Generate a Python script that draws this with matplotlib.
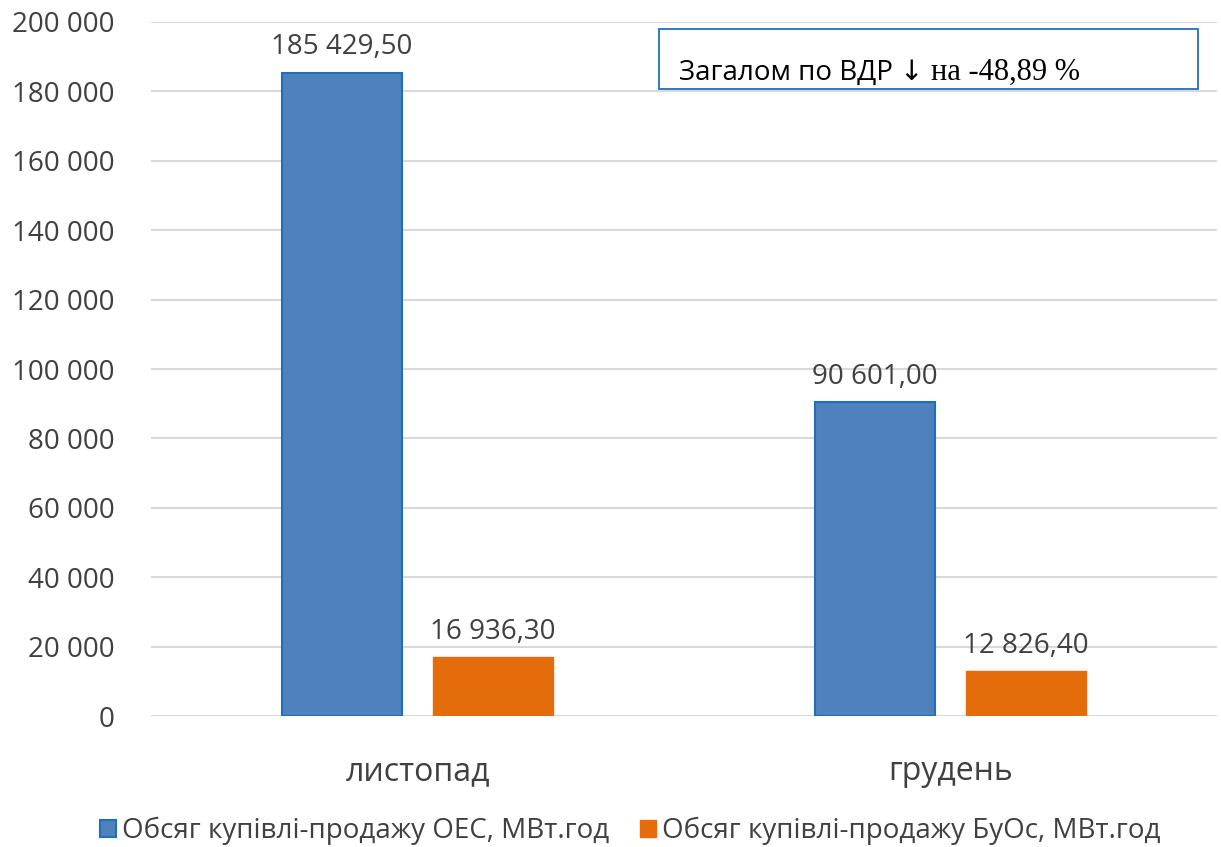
import matplotlib
matplotlib.use("Agg")
import matplotlib.pyplot as plt
import numpy as np
from matplotlib.patches import Rectangle

categories = ["листопад", "грудень"]
series_names = ["Обсяг купівлі-продажу ОЕС, МВт.год", "Обсяг купівлі-продажу БуОс, МВт.год"]
oes = [185429.50, 90601.00]
buos = [16936.30, 12826.40]
yticks = [0, 20000, 40000, 60000, 80000, 100000, 120000, 140000, 160000, 180000, 200000]

def fmt_int(v):
    return f"{int(v):,}".replace(",", " ")

def fmt_dec(v):
    s = f"{v:,.2f}"
    return s.replace(",", " ").replace(".", ",")

plt.rcParams['font.family'] = ['Open Sans', 'DejaVu Sans']
fig = plt.figure(figsize=(12.21, 8.47), dpi=100)
W, H = 1221, 847
ax = fig.add_axes([151 / W, (H - 716) / H, (1217 - 151) / W, (716 - 22) / H])

x = np.arange(len(categories))
bw = 0.225
off = 0.142
c_blue, e_blue = "#4F81BD", "#1F6FC0"
c_or, e_or = "#E46C0A", "#E46C0A"
b1 = ax.bar(x - off, oes, bw, color=c_blue, edgecolor=e_blue, linewidth=1.5, label=series_names[0], zorder=3)
b2 = ax.bar(x + off, buos, bw, color=c_or, edgecolor=e_or, linewidth=1.0, label=series_names[1], zorder=3)

txt = "#404040"
for bars, vals in ((b1, oes), (b2, buos)):
    for r, v in zip(bars, vals):
        ax.annotate(fmt_dec(v), (r.get_x() + r.get_width() / 2, v), xytext=(0, 8),
                    textcoords="offset points", ha="center", va="bottom", fontsize=20, color=txt)

ax.set_xlim(-0.5, 1.5)
ax.set_ylim(0, 200000)
ax.set_yticks(yticks)
ax.set_yticklabels([fmt_int(v) for v in yticks], fontsize=20, color=txt)
ax.set_xticks(x)
ax.set_xticklabels(categories, fontsize=23, color=txt)
ax.tick_params(axis='y', length=0, pad=26)
ax.tick_params(axis='x', length=0, pad=28)
ax.grid(axis='y', color="#D9D9D9", linewidth=1.5, zorder=0)
for s in ax.spines.values():
    s.set_visible(False)

# annotation box
fig.patches.append(Rectangle((659 / W, (H - 89) / H), (1198 - 659) / W, (89 - 29) / H,
                             transform=fig.transFigure, fill=False, edgecolor="#1F6FC0", linewidth=1.3))
t1 = fig.text(679 / W, (H - 80) / H, "Загалом по ВДР ↓ ", fontsize=20, color="black", va="baseline")
fig.canvas.draw()
bb = t1.get_window_extent()
fig.text(bb.x1 / W, (H - 80) / H, "на -48,89 %", fontsize=22, color="black", va="baseline",
         family=["Liberation Serif", "DejaVu Serif"])

leg = fig.legend(handles=[b1, b2], labels=series_names, loc="center", bbox_to_anchor=(0.516, (H - 831) / H),
                 ncol=2, frameon=False, fontsize=20, handlelength=0.6, handleheight=0.6,
                 handletextpad=0.2, columnspacing=1.1, labelcolor=txt)

fig.savefig("out.png", dpi=100)
